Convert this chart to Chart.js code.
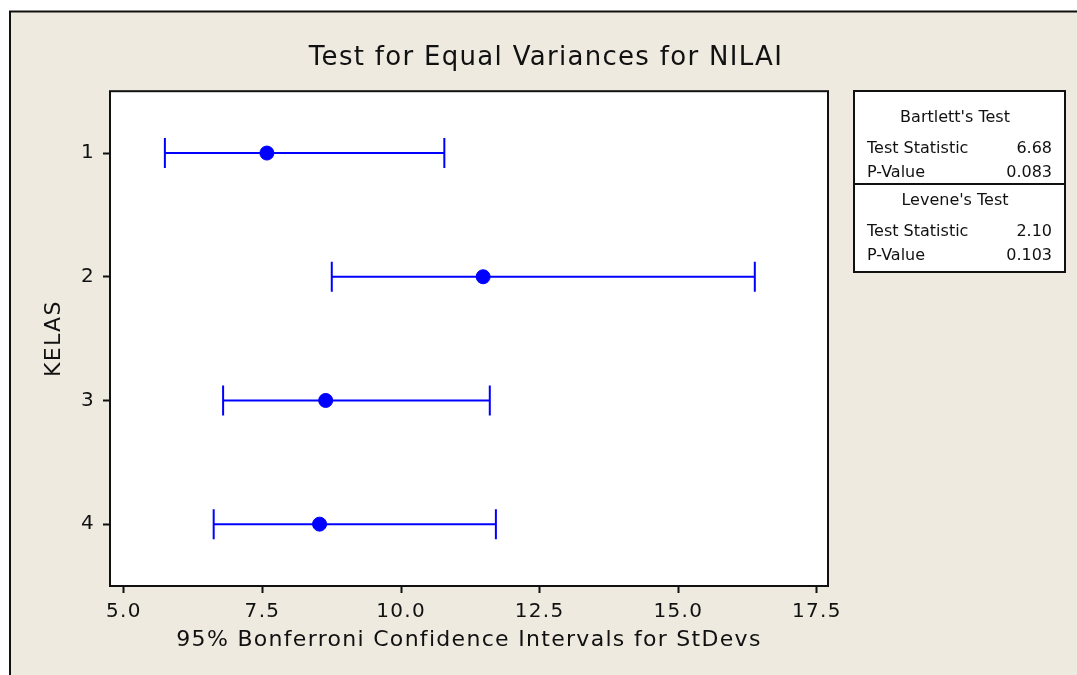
<!DOCTYPE html>
<html lang="en">

<head>
    <meta charset="UTF-8">
    <title>Test for Equal Variances for NILAI</title>
    <script src="https://cdn.jsdelivr.net/npm/chart.js"></script>
    <style>
        body {
            margin: 0;
            background: #fff;
        }

        .wrap {
            width: 1077px;
            height: 675px;
            position: relative;
        }
    </style>
</head>

<body>
    <div class="wrap"><canvas id="chart"></canvas></div>

    <script>
        // data
        const groups = [1, 2, 3, 4];
        const lowerCI = [5.74, 8.75, 6.79, 6.62];
        const stDevs = [7.58, 11.48, 8.64, 8.53];
        const upperCI = [10.78, 16.38, 11.60, 11.71];
        const xTicks = [5.0, 7.5, 10.0, 12.5, 15.0, 17.5];

        const testNames = ["Bartlett's Test", "Levene's Test"];
        const testStats = ["6.68", "2.10"];
        const pValues = ["0.083", "0.103"];

        const BLUE = '#0000ff';
        const BEIGE = '#eeeae0';
        const FONT = "'DejaVu Sans', sans-serif";
        const SPACING = '1.3px';

        const intervalSets = groups.map((g, i) => ({
            type: 'line',
            data: [{ x: lowerCI[i], y: g }, { x: upperCI[i], y: g }],
            borderColor: BLUE,
            borderWidth: 2,
            pointStyle: 'line',
            pointRadius: 15,
            pointHoverRadius: 15,
            pointRotation: 90,
            pointBorderWidth: 2,
            pointBorderColor: BLUE,
            fill: false
        }));

        const centerSet = {
            type: 'scatter',
            data: groups.map((g, i) => ({ x: stDevs[i], y: g })),
            pointRadius: 7,
            pointHoverRadius: 7,
            backgroundColor: BLUE,
            borderColor: BLUE,
            borderWidth: 1
        };

        // frame, plot background, border and the test table
        const decor = {
            id: 'decor',
            beforeUpdate(chart) { chart.ctx.letterSpacing = SPACING; },
            beforeDraw(chart) {
                const ctx = chart.ctx, a = chart.chartArea;
                ctx.save();
                ctx.fillStyle = '#fff';
                ctx.fillRect(0, 0, chart.width, chart.height);
                ctx.fillStyle = BEIGE;
                ctx.fillRect(10, 11, chart.width - 10, chart.height - 11);
                ctx.strokeStyle = '#111';
                ctx.lineWidth = 2;
                ctx.beginPath();
                ctx.moveTo(10, chart.height);
                ctx.lineTo(10, 11.5);
                ctx.lineTo(chart.width, 11.5);
                ctx.stroke();
                ctx.fillStyle = '#fff';
                ctx.fillRect(a.left, a.top, a.right - a.left, a.bottom - a.top);
                ctx.restore();
                ctx.letterSpacing = SPACING;
            },
            afterDraw(chart) {
                const ctx = chart.ctx, a = chart.chartArea;
                ctx.save();
                ctx.strokeStyle = '#111';
                ctx.lineWidth = 2;
                ctx.strokeRect(a.left, a.top, a.right - a.left, a.bottom - a.top);

                // stats table
                const L = 854, R = 1065, T = 91, B = 272, D = 184;
                ctx.fillStyle = '#fff';
                ctx.fillRect(L, T, R - L, B - T);
                ctx.strokeRect(L, T, R - L, B - T);
                ctx.beginPath();
                ctx.moveTo(L, D);
                ctx.lineTo(R, D);
                ctx.stroke();

                ctx.letterSpacing = '0px';
                ctx.font = '16px ' + FONT;
                ctx.fillStyle = '#111';
                ctx.textBaseline = 'middle';
                const rows = [118, 201];
                testNames.forEach((name, i) => {
                    const y = rows[i];
                    ctx.textAlign = 'center';
                    ctx.fillText(name, 955, y);
                    ctx.textAlign = 'left';
                    ctx.fillText('Test Statistic', 867, y + 31);
                    ctx.fillText('P-Value', 867, y + 55);
                    ctx.textAlign = 'right';
                    ctx.fillText(testStats[i], 1052, y + 31);
                    ctx.fillText(pValues[i], 1052, y + 55);
                });
                ctx.restore();
            }
        };

        new Chart(document.getElementById('chart'), {
            data: { datasets: [...intervalSets, centerSet] },
            options: {
                responsive: true,
                maintainAspectRatio: false,
                animation: false,
                layout: { padding: { left: 15, right: 0, top: 0, bottom: 0 } },
                plugins: {
                    legend: { display: false },
                    tooltip: { enabled: false },
                    title: {
                        display: true,
                        text: 'Test for Equal Variances for NILAI',
                        color: '#111',
                        font: { family: FONT, size: 26, weight: 'normal' },
                        padding: { top: 43, bottom: 17 }
                    }
                },
                scales: {
                    x: {
                        type: 'linear',
                        min: 4.75,
                        max: 17.70,
                        afterBuildTicks: s => { s.ticks = xTicks.map(v => ({ value: v })); },
                        afterFit: s => { s.height = 89; },
                        ticks: {
                            callback: v => v.toFixed(1),
                            color: '#111',
                            font: { family: FONT, size: 20 },
                            padding: 7,
                            autoSkip: false,
                            maxRotation: 0
                        },
                        grid: { drawOnChartArea: false, tickLength: 7, tickWidth: 2, tickColor: '#111' },
                        border: { display: false },
                        title: {
                            display: true,
                            text: '95% Bonferroni Confidence Intervals for StDevs',
                            color: '#111',
                            font: { family: FONT, size: 22 },
                            padding: { bottom: 22 }
                        }
                    },
                    y: {
                        type: 'linear',
                        min: 0.5,
                        max: 4.5,
                        reverse: true,
                        afterBuildTicks: s => { s.ticks = groups.map(v => ({ value: v })); },
                        afterFit: s => { s.width = 95; },
                        ticks: {
                            color: '#111',
                            font: { family: FONT, size: 20 },
                            padding: 8
                        },
                        grid: { drawOnChartArea: false, tickLength: 7, tickWidth: 2, tickColor: '#111' },
                        border: { display: false },
                        title: {
                            display: true,
                            text: 'KELAS',
                            color: '#111',
                            font: { family: FONT, size: 22 },
                            padding: { top: 26 }
                        }
                    },
                    side: {
                        position: 'right',
                        display: true,
                        ticks: { display: false },
                        grid: { display: false },
                        border: { display: false },
                        afterFit: s => { s.width = 249; }
                    }
                }
            },
            plugins: [decor]
        });
    </script>
</body>

</html>
